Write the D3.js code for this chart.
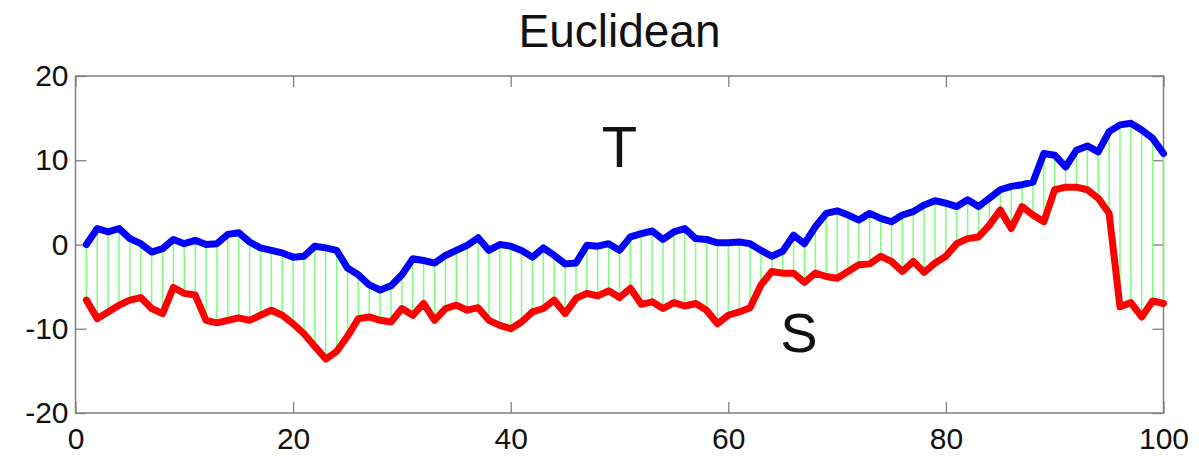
<!DOCTYPE html>
<html>
<head>
<meta charset="utf-8">
<script src="https://cdn.jsdelivr.net/npm/d3@7"></script>
<style>
  html, body { margin: 0; padding: 0; background: #fff; }
  svg { display: block; }
  text { font-family: "Liberation Sans", Arial, sans-serif; fill: #111; }
</style>
</head>
<body>
<svg id="chart" width="1199" height="456"></svg>
<script>
const title = "Euclidean";
const xTicks = [0, 20, 40, 60, 80, 100];
const yTicks = [-20, -10, 0, 10, 20];
const xIndex = d3.range(1, 101);
const seriesT = [0.0,1.9,1.5,1.9,0.7,0.1,-0.9,-0.5,0.6,0.1,
  0.5,0.0,0.1,1.2,1.4,0.3,-0.4,-0.7,-1.0,-1.5,
  -1.4,-0.2,-0.4,-0.7,-2.8,-3.6,-4.8,-5.4,-4.9,-3.6,
  -1.7,-1.9,-2.2,-1.3,-0.7,-0.1,0.8,-0.7,0.0,-0.2,
  -0.7,-1.5,-0.4,-1.3,-2.3,-2.2,-0.1,-0.2,0.1,-0.7,
  0.9,1.3,1.6,0.6,1.5,1.9,0.7,0.6,0.2,0.2,
  0.3,0.1,-0.7,-1.4,-0.8,1.1,0.1,2.1,3.7,4.0,
  3.5,2.9,3.7,3.1,2.7,3.5,3.9,4.7,5.2,4.9,
  4.5,5.3,4.5,5.5,6.5,6.9,7.1,7.4,10.8,10.6,
  9.2,11.2,11.7,11.0,13.4,14.2,14.4,13.6,12.6,10.8];
const seriesS = [-6.6,-8.8,-8.0,-7.2,-6.6,-6.3,-7.6,-8.2,-5.1,-5.8,
  -6.0,-9.0,-9.3,-9.0,-8.7,-9.0,-8.4,-7.8,-8.4,-9.4,
  -10.6,-12.1,-13.6,-12.7,-10.9,-8.8,-8.6,-9.0,-9.2,-7.6,
  -8.4,-7.0,-9.0,-7.6,-7.2,-7.8,-7.5,-9.0,-9.6,-10.0,
  -9.2,-8.0,-7.6,-6.6,-8.2,-6.4,-5.8,-6.1,-5.5,-6.3,
  -5.2,-7.1,-6.8,-7.6,-6.9,-7.3,-7.0,-7.8,-9.4,-8.4,
  -8.0,-7.5,-4.8,-3.2,-3.4,-3.4,-4.5,-3.4,-3.8,-4.0,
  -3.2,-2.4,-2.3,-1.4,-2.0,-3.2,-2.0,-3.3,-2.2,-1.4,
  0.1,0.7,0.9,2.3,4.1,1.9,4.5,3.5,2.7,6.5,
  6.8,6.8,6.5,5.5,3.7,-7.4,-6.9,-8.6,-6.7,-7.0];
const labels = [{text: "T", x: 50, y: 9.2, size: 58}, {text: "S", x: 66.5, y: -12.8, size: 56}];

const svg = d3.select("#chart");
const L = 75.5, R = 1163.5, T = 76, B = 413;
const x = d3.scaleLinear().domain([0, 100]).range([L, R]);
const y = d3.scaleLinear().domain([-20, 20]).range([B, T]);
const axisColor = "#7f7f7f";
const plainFmt = (d) => String(d);

// title
svg.append("text").attr("x", (L + R) / 2).attr("y", 47)
  .attr("text-anchor", "middle").attr("font-size", 46).text(title);

// frame
svg.append("rect").attr("x", L).attr("y", T).attr("width", R - L).attr("height", B - T)
  .attr("fill", "none").attr("stroke", axisColor).attr("stroke-width", 1.5);

function styleAxis(g) {
  g.select(".domain").remove();
  g.selectAll(".tick line").attr("stroke", axisColor).attr("stroke-width", 1.3);
}
svg.append("g").attr("transform", `translate(0,${B})`)
  .call(d3.axisBottom(x).tickValues(xTicks).tickSizeInner(-11).tickSizeOuter(0).tickPadding(15).tickFormat(plainFmt))
  .call(styleAxis)
  .call(g => g.selectAll("text").attr("font-size", 30).attr("font-family", "Liberation Sans, Arial, sans-serif").attr("fill", "#111"));
svg.append("g").attr("transform", `translate(0,${T})`)
  .call(d3.axisTop(x).tickValues(xTicks).tickSizeInner(-11).tickSizeOuter(0).tickFormat(""))
  .call(styleAxis);
svg.append("g").attr("transform", `translate(${L},0)`)
  .call(d3.axisLeft(y).tickValues(yTicks).tickSizeInner(-11).tickSizeOuter(0).tickPadding(7).tickFormat(plainFmt))
  .call(styleAxis)
  .call(g => g.selectAll("text").attr("font-size", 30).attr("font-family", "Liberation Sans, Arial, sans-serif").attr("fill", "#111"));
svg.append("g").attr("transform", `translate(${R},0)`)
  .call(d3.axisRight(y).tickValues(yTicks).tickSizeInner(-11).tickSizeOuter(0).tickFormat(""))
  .call(styleAxis);

// green connectors
svg.append("g").selectAll("line").data(xIndex).join("line")
  .attr("x1", (d) => x(d)).attr("x2", (d) => x(d))
  .attr("y1", (d, i) => y(seriesT[i])).attr("y2", (d, i) => y(seriesS[i]))
  .attr("stroke", "#7dff7d").attr("stroke-width", 1.5);

const line = (vals) => d3.line().x((d, i) => x(xIndex[i])).y((d) => y(d))(vals);
svg.append("path").attr("d", line(seriesT)).attr("fill", "none")
  .attr("stroke", "#0000ff").attr("stroke-width", 7).attr("stroke-linejoin", "round").attr("stroke-linecap", "round");
svg.append("path").attr("d", line(seriesS)).attr("fill", "none")
  .attr("stroke", "#ff0000").attr("stroke-width", 7).attr("stroke-linejoin", "round").attr("stroke-linecap", "round");

svg.selectAll(".lbl").data(labels).join("text").attr("class", "lbl")
  .attr("x", (d) => x(d.x)).attr("y", (d) => y(d.y))
  .attr("text-anchor", "middle").attr("font-size", (d) => d.size).text((d) => d.text);
</script>
</body>
</html>
